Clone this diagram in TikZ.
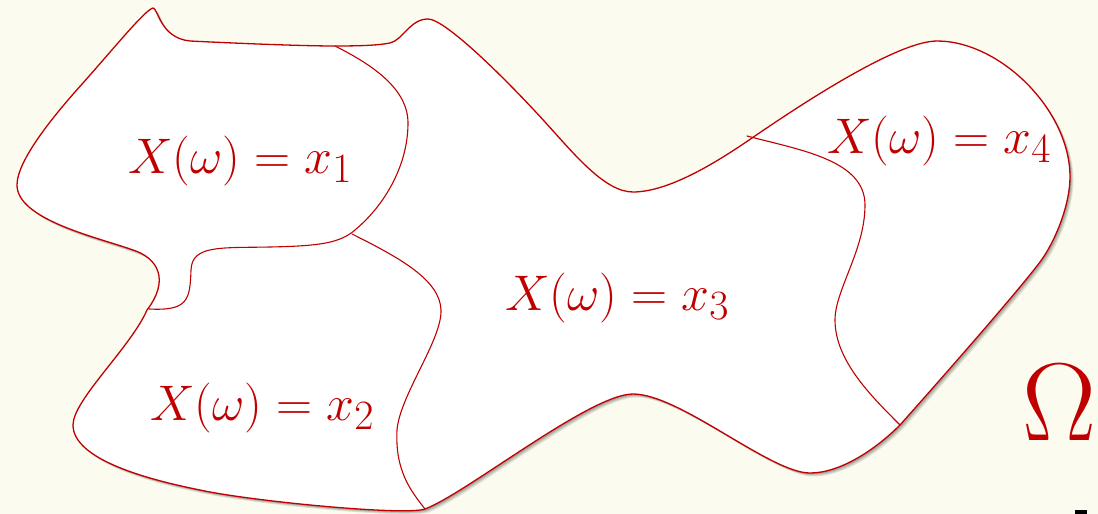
\documentclass[tikz,border=0pt]{standalone}
\begin{document}
\begin{tikzpicture}[x=1pt,y=-1pt,
  outline/.style={draw=myred,line width=1.3pt,line join=round},
  divider/.style={draw=myred,line width=1.1pt,line cap=round},
  lab/.style={text=myred,inner sep=0pt,anchor=base west,font=\Huge,scale=2.01}]
\definecolor{myred}{RGB}{192,0,0}
\definecolor{bgcream}{RGB}{251,251,240}
\useasboundingbox (0,0) rectangle (1098,514);
\clip (0,0) rectangle (1098,514);
\fill[bgcream] (0,0) rectangle (1098,514);
\def\outlinepath{(153,8) .. controls (158,8) and (160,38) .. (190,41)
 .. controls (230,43) and (300,46) .. (335,46)
 .. controls (365,46) and (380,45) .. (390,43)
 .. controls (403,40) and (410,19) .. (428,19)
 .. controls (445,19) and (505,78) .. (545,122)
 .. controls (575,155) and (605,192) .. (633,192)
 .. controls (670,192) and (720,160) .. (752,138)
 .. controls (790,112) and (895,41) .. (937,41)
 .. controls (1000,41) and (1070,110) .. (1070,177)
 .. controls (1070,205) and (1055,242) .. (1040,262)
 .. controls (1015,295) and (940,380) .. (900,425)
 .. controls (875,450) and (840,473) .. (810,473)
 .. controls (770,473) and (680,394) .. (633,394)
 .. controls (590,394) and (467,493) .. (425,509)
 .. controls (405,516) and (250,501) .. (200,490)
 .. controls (150,480) and (73,460) .. (73,425)
 .. controls (73,400) and (131,347) .. (147,310)
 .. controls (170,280) and (158,258) .. (133,250)
 .. controls (100,238) and (17,220) .. (17,185)
 .. controls (17,160) and (55,114) .. (83,83)
 .. controls (115,47) and (145,10) .. (153,8) -- cycle}
% shadow
\foreach \d/\o in {3.5/0.10,2.5/0.12,1.5/0.15}{
  \fill[black,opacity=\o,shift={(\d,\d)}] \outlinepath;
}
\path[outline,fill=white] \outlinepath;
% dividers
\draw[divider] (335,46) .. controls (375,66) and (408,90) .. (408,123)
  .. controls (408,165) and (385,205) .. (355,230)
  .. controls (340,243) and (320,246) .. (270,247)
  .. controls (220,248) and (192,245) .. (191,270)
  .. controls (190,300) and (188,311) .. (149,309);
\draw[divider] (352,234) .. controls (400,258) and (440,280) .. (441,310)
  .. controls (442,340) and (400,395) .. (397,430)
  .. controls (395,470) and (410,490) .. (425,509);
\draw[divider] (747,136) .. controls (800,150) and (865,160) .. (865,205)
  .. controls (865,250) and (835,290) .. (835,320)
  .. controls (835,360) and (870,395) .. (900,425);
% labels
\node[lab] (l1) at (128,173) {$X(\omega)=x_1$};
\node[lab] (l2) at (150,420) {$X(\omega)=x_2$};
\node[lab] (l3) at (505,310) {$X(\omega)=x_3$};
\node[lab] (l4) at (827,153) {$X(\omega)=x_4$};
\node[text=myred,inner sep=0pt,anchor=base west,font=\Huge,scale=4.45] (om) at (1022,440) {$\Omega$};
\fill[black] (1075,510) rectangle (1087,514);
\end{tikzpicture}
\end{document}
